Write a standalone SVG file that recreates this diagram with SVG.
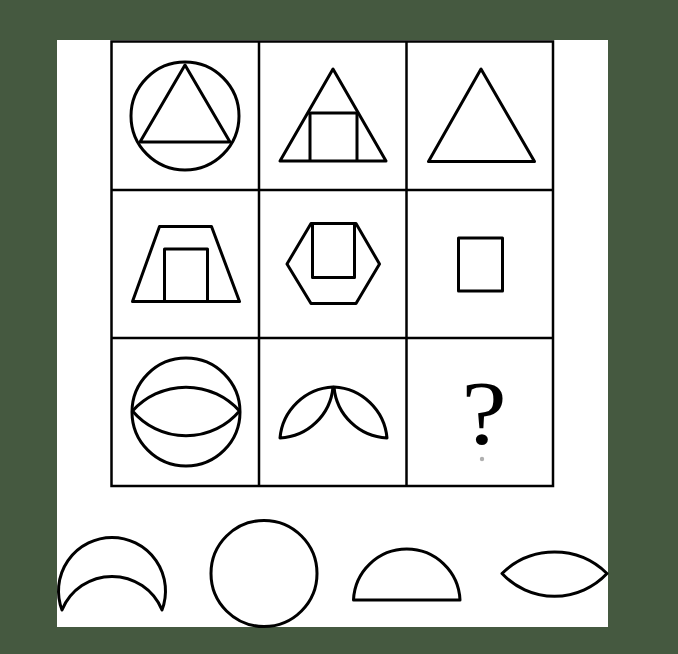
<svg xmlns="http://www.w3.org/2000/svg" width="678" height="654" viewBox="0 0 678 654">
<style>
.s{fill:none;stroke:#000;stroke-width:3;stroke-linejoin:round}
.g{fill:none;stroke:#000;stroke-width:2.5}
</style>
<rect x="0" y="0" width="678" height="654" fill="#455940"/>
<rect x="57" y="40" width="551" height="587" fill="#fff"/>
<g id="grid">
<rect class="g" x="111.5" y="41.5" width="441.5" height="444.5"/>
<line class="g" x1="259" y1="41" x2="259" y2="486"/>
<line class="g" x1="406.5" y1="41" x2="406.5" y2="486"/>
<line class="g" x1="111" y1="190" x2="553" y2="190"/>
<line class="g" x1="111" y1="338" x2="553" y2="338"/>
</g>
<g id="cell11">
<circle class="s" cx="185" cy="116" r="54"/>
<path class="s" d="M185,65 L140,142 L230,142 Z"/>
</g>
<g id="cell12">
<path class="s" d="M333,69 L280,161 L386,161 Z"/>
<path class="s" d="M308,113 L358,113 M310,113 L310,161 M357,113 L357,161"/>
</g>
<g id="cell13">
<path class="s" d="M481,69 L428.5,161.5 L534.5,161.5 Z"/>
</g>
<g id="cell21">
<path class="s" d="M159.5,226.5 L211.5,226.5 L239.5,301.5 L132.5,301.5 Z"/>
<path class="s" d="M164.5,301.5 L164.5,249 L207.5,249 L207.5,301.5"/>
</g>
<g id="cell22">
<path class="s" d="M311,223.5 L356,223.5 L379.5,264 L356,303.5 L311,303.5 L287,264 Z"/>
<rect class="s" x="312.5" y="223.5" width="42" height="54"/>
</g>
<g id="cell23">
<rect class="s" x="458.5" y="238" width="44" height="53"/>
</g>
<g id="cell31">
<circle class="s" cx="186" cy="412" r="54"/>
<path class="s" d="M132.5,411 A72,72 0 0 1 239.5,411 A70,70 0 0 1 132.5,411 Z"/>
</g>
<g id="cell32">
<path class="s" d="M333,387 A56,56 0 0 0 280,438 A56,56 0 0 0 333,387 Z"/>
<path class="s" d="M334,387 A56,56 0 0 1 387,438 A56,56 0 0 1 334,387 Z"/>
</g>
<g id="cell33">
<text x="0" y="0" transform="translate(484,444) scale(1.12,1)" font-family="Liberation Serif, serif" font-size="91" text-anchor="middle" fill="#000">?</text>
<circle cx="482" cy="459" r="2.2" fill="#b0b0b0"/>
</g>
<g id="optA">
<path class="s" d="M62,610 A53.5,53.5 0 1 1 162,610 A54,54 0 0 0 62,610 Z"/>
</g>
<g id="optB">
<circle class="s" cx="264" cy="573.5" r="53"/>
</g>
<g id="optC">
<path class="s" d="M353.5,600 A53.3,53.3 0 0 1 460,600 Z"/>
</g>
<g id="optD">
<path class="s" d="M502,573.5 A75,75 0 0 1 607,573.5 A72,72 0 0 1 502,573.5 Z"/>
</g>
</svg>
